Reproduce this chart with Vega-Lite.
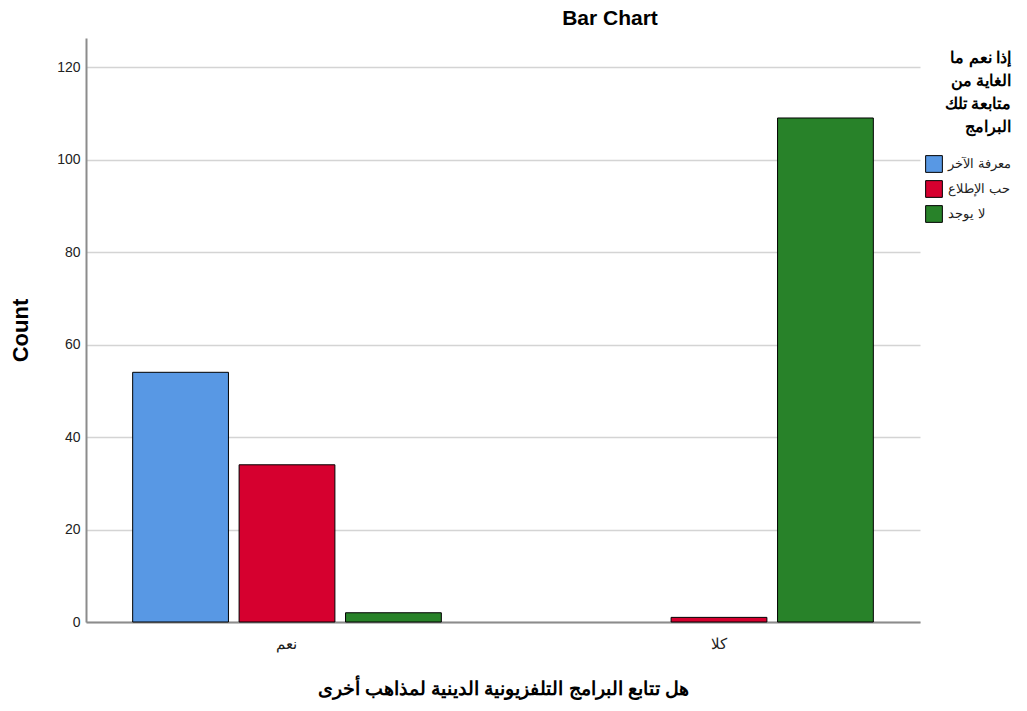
{
  "$schema": "https://vega.github.io/schema/vega-lite/v6.json",
  "width": 834,
  "height": 584,
  "autosize": {"type": "none"},
  "padding": {"left": 86, "top": 38, "right": 107, "bottom": 89},
  "background": "white",
  "title": {
    "text": "Bar Chart",
    "anchor": "middle",
    "frame": "group",
    "dx": 107,
    "offset": 9,
    "font": "Liberation Sans",
    "fontSize": 21,
    "fontWeight": "bold",
    "color": "#000000"
  },
  "data": {
    "values": [
      {"answer": "نعم", "purpose": "معرفة الآخر", "count": 54},
      {"answer": "نعم", "purpose": "حب الإطلاع", "count": 34},
      {"answer": "نعم", "purpose": "لا يوجد", "count": 2},
      {"answer": "كلا", "purpose": "حب الإطلاع", "count": 1},
      {"answer": "كلا", "purpose": "لا يوجد", "count": 109}
    ]
  },
  "mark": {"type": "bar", "stroke": "#000000", "strokeWidth": 1},
  "encoding": {
    "x": {
      "field": "answer",
      "type": "nominal",
      "sort": ["نعم", "كلا"],
      "scale": {"paddingInner": 0.2855, "paddingOuter": 0.108},
      "axis": {
        "title": "هل تتابع البرامج التلفزيونية الدينية لمذاهب أخرى",
        "titleFont": "Liberation Sans",
        "titleFontSize": 19,
        "titleFontWeight": "bold",
        "titleColor": "#000000",
        "titlePadding": 28,
        "labelAngle": 0,
        "labelFont": "Liberation Sans",
        "labelFontSize": 15,
        "labelColor": "#222222",
        "labelPadding": 14,
        "ticks": false,
        "domainColor": "#8c8c8c",
        "domainWidth": 2,
        "grid": false
      }
    },
    "xOffset": {
      "field": "purpose",
      "type": "nominal",
      "sort": ["معرفة الآخر", "حب الإطلاع", "لا يوجد"],
      "scale": {"paddingInner": 0.1, "paddingOuter": 0}
    },
    "y": {
      "field": "count",
      "type": "quantitative",
      "scale": {"domain": [0, 126.3], "nice": false},
      "axis": {
        "title": "Count",
        "titleFont": "Liberation Sans",
        "titleFontSize": 22,
        "titleFontWeight": "bold",
        "titleColor": "#000000",
        "titlePadding": 24,
        "values": [0, 20, 40, 60, 80, 100, 120],
        "labelFont": "Liberation Sans",
        "labelFontSize": 14,
        "labelColor": "#222222",
        "labelPadding": 6,
        "ticks": false,
        "domainColor": "#8c8c8c",
        "domainWidth": 2,
        "grid": true,
        "gridColor": "#d4d4d4",
        "gridWidth": 1.5
      }
    },
    "color": {
      "field": "purpose",
      "type": "nominal",
      "sort": ["معرفة الآخر", "حب الإطلاع", "لا يوجد"],
      "scale": {
        "domain": ["معرفة الآخر", "حب الإطلاع", "لا يوجد"],
        "range": ["#5898e4", "#d6002f", "#288229"]
      },
      "legend": {
        "title": ["إذا نعم ما", "الغاية من", "متابعة تلك", "البرامج"],
        "titleFont": "Liberation Sans",
        "titleFontSize": 16,
        "titleFontWeight": "bold",
        "titleColor": "#000000",
        "titleLineHeight": 23,
        "titleAlign": "right",
        "titleAnchor": "end",
        "titlePadding": 20,
        "orient": "none",
        "legendX": 839,
        "legendY": 12,
        "symbolType": "square",
        "symbolSize": 280,
        "symbolStrokeColor": "#000000",
        "symbolStrokeWidth": 1,
        "symbolOpacity": 1,
        "labelFont": "Liberation Sans",
        "labelFontSize": 13,
        "labelColor": "#222222",
        "labelOffset": 5,
        "rowPadding": 3,
        "padding": 0
      }
    }
  },
  "config": {
    "view": {"stroke": null},
    "legend": {"symbolFillColor": null}
  }
}
